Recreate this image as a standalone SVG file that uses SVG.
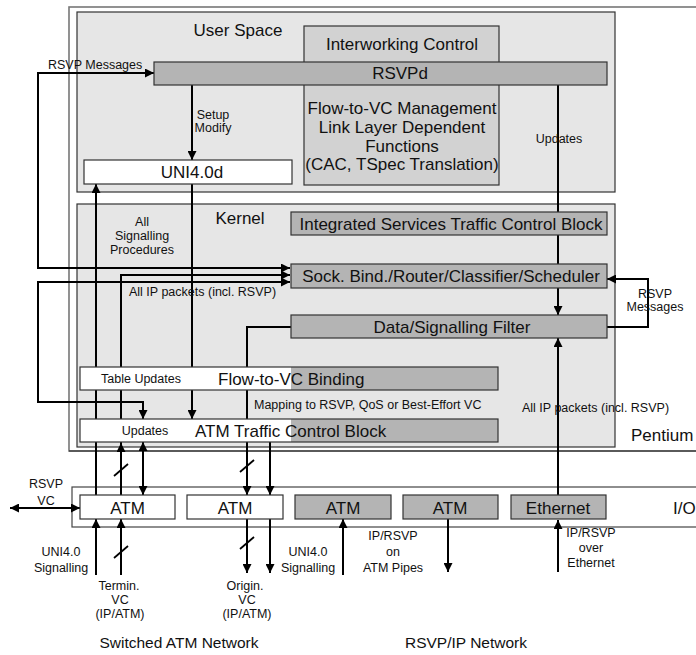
<svg xmlns="http://www.w3.org/2000/svg" width="696" height="655" viewBox="0 0 696 655">
<defs>
<marker id="ah" viewBox="0 0 10 10" refX="10" refY="5" markerWidth="9" markerHeight="9" markerUnits="userSpaceOnUse" orient="auto-start-reverse">
<path d="M0,0 L10,5 L0,10 z" fill="#000"/>
</marker>
<style>
text{font-family:"Liberation Sans",Arial,sans-serif;fill:#111}
.big{font-size:17px}
.sm{font-size:12.5px}
.bot{font-size:15.5px}
.mid{text-anchor:middle}
.cont{fill:#e6e6e6;stroke:#333;stroke-width:1.2}
.gray{fill:#b4b4b4;stroke:#333;stroke-width:1.2}
.white{fill:#fff;stroke:#333;stroke-width:1.2}
.c{fill:none;stroke:#000;stroke-width:2}
.a{fill:none;stroke:#000;stroke-width:2;marker-end:url(#ah)}
.aa{fill:none;stroke:#000;stroke-width:2;marker-start:url(#ah);marker-end:url(#ah)}
.sl{stroke:#000;stroke-width:1.8}
</style>
</defs>
<rect width="696" height="655" fill="#fff"/>

<g id="pentium">
<rect x="69" y="7" width="700" height="444" fill="#fff" stroke="#777" stroke-width="1.6"/>
<line x1="69" y1="451" x2="696" y2="451" stroke="#222" stroke-width="1.2"/>
<text class="big" x="631" y="441">Pentium</text>
</g>
<g id="io">
<rect x="72" y="487" width="700" height="40" fill="#fff" stroke="#444" stroke-width="1.2"/>
<text class="big" x="673" y="514">I/O</text>
</g>
<g id="userspace">
<rect class="cont" x="77" y="12" width="538" height="180"/>
<text class="big mid" x="238" y="36">User Space</text>
</g>
<g id="kernel">
<rect class="cont" x="77" y="204" width="538" height="243"/>
<text class="big mid" x="240" y="224">Kernel</text>
</g>

<g id="connectors">
<path class="aa" d="M290,268 H38 V73 H154"/>
<path class="a" d="M192,85 V160"/>
<path class="a" d="M192,184 V419"/>
<path class="c" d="M558,85 V264"/>
<path class="a" d="M558,288 V315"/>
<path class="a" d="M96,495 V184"/>
<path class="a" d="M121,495 V443"/>
<path class="a" d="M121,443 V275 H290"/>
<path class="aa" d="M143,442 V495"/>
<path class="aa" d="M290,282 H38 V402 H143 V419"/>
<path class="a" d="M291,327 H247 V495"/>
<path class="a" d="M270,442 V495"/>
<path class="a" d="M607,327 H648 V279 H607"/>
<path class="a" d="M558,495 V338"/>
<path class="aa" d="M10,508 H80"/>
<path class="a" d="M96,575 V519"/>
<path class="a" d="M121,575 V519"/>
<path class="a" d="M247,519 V573"/>
<path class="a" d="M270,519 V573"/>
<path class="a" d="M343,575 V519"/>
<path class="a" d="M448,519 V572"/>
<path class="a" d="M558,572 V520"/>
<line class="sl" x1="114" y1="476" x2="128" y2="464"/>
<line class="sl" x1="240" y1="472" x2="254" y2="460"/>
<line class="sl" x1="114" y1="558" x2="128" y2="546"/>
<line class="sl" x1="240" y1="549" x2="254" y2="537"/>
</g>

<g id="interworking">
<rect x="304" y="26" width="195" height="159" fill="#d2d2d2" stroke="#333" stroke-width="1.2"/>
<text class="big mid" x="402" y="50">Interworking Control</text>
<text class="big mid" x="402" y="114">Flow-to-VC Management</text>
<text class="big mid" x="402" y="133">Link Layer Dependent</text>
<text class="big mid" x="402" y="152">Functions</text>
<text class="big mid" x="402" y="170">(CAC, TSpec Translation)</text>
</g>
<g id="rsvpd">
<rect class="gray" x="154" y="62" width="453" height="23"/>
<text class="big mid" x="400" y="79">RSVPd</text>
</g>
<g id="uni40d">
<rect class="white" x="84" y="160" width="208" height="24"/>
<text class="big mid" x="192" y="178">UNI4.0d</text>
</g>
<g id="intserv">
<rect class="gray" x="291" y="212" width="316" height="23"/>
<text class="big mid" x="451" y="230">Integrated Services Traffic Control Block</text>
</g>
<g id="sock">
<rect class="gray" x="291" y="264" width="316" height="24"/>
<text class="big mid" x="451" y="282">Sock. Bind./Router/Classifier/Scheduler</text>
</g>
<g id="filter">
<rect class="gray" x="291" y="315" width="316" height="23"/>
<text class="big mid" x="452" y="333">Data/Signalling Filter</text>
</g>
<g id="flowvc">
<rect x="80" y="367" width="418" height="23" fill="#b4b4b4"/>
<rect x="80" y="367" width="211" height="23" fill="#fff"/>
<rect x="80" y="367" width="418" height="23" fill="none" stroke="#333" stroke-width="1.2"/>
<text class="sm mid" x="141" y="383">Table Updates</text>
<text class="big" x="218" y="385">Flow-to-VC Binding</text>
</g>
<g id="atmtc">
<rect x="80" y="419" width="418" height="23" fill="#b4b4b4"/>
<rect x="80" y="419" width="211" height="23" fill="#fff"/>
<rect x="80" y="419" width="418" height="23" fill="none" stroke="#333" stroke-width="1.2"/>
<text class="sm mid" x="145" y="435">Updates</text>
<text class="big" x="195" y="437">ATM Traffic Control Block</text>
</g>
<g id="atm1">
<rect class="white" x="80" y="495" width="95" height="24"/>
<text class="big mid" x="127.5" y="514">ATM</text>
</g>
<g id="atm2">
<rect class="white" x="187" y="495" width="96" height="24"/>
<text class="big mid" x="235" y="514">ATM</text>
</g>
<g id="atm3">
<rect class="gray" x="295" y="495" width="96" height="24"/>
<text class="big mid" x="343" y="514">ATM</text>
</g>
<g id="atm4">
<rect class="gray" x="403" y="495" width="95" height="24"/>
<text class="big mid" x="450" y="514">ATM</text>
</g>
<g id="ethernet">
<rect class="gray" x="511" y="495" width="95" height="24"/>
<text class="big mid" x="558" y="514">Ethernet</text>
</g>

<g id="labels">
<text class="sm" x="48" y="69">RSVP Messages</text>
<text class="sm mid" x="213" y="119">Setup</text>
<text class="sm mid" x="213" y="132">Modify</text>
<text class="sm mid" x="559" y="143">Updates</text>
<text class="sm mid" x="142" y="226">All</text>
<text class="sm mid" x="142" y="240">Signalling</text>
<text class="sm mid" x="142" y="254">Procedures</text>
<text class="sm" x="129" y="296">All IP packets (incl. RSVP)</text>
<text class="sm mid" x="655" y="298">RSVP</text>
<text class="sm mid" x="655" y="311">Messages</text>
<text class="sm" x="254" y="409">Mapping to RSVP, QoS or Best-Effort VC</text>
<text class="sm" x="522" y="412">All IP packets (incl. RSVP)</text>
<text class="sm mid" x="46" y="488">RSVP</text>
<text class="sm mid" x="46" y="505">VC</text>
<text class="sm mid" x="61" y="556">UNI4.0</text>
<text class="sm mid" x="61" y="572">Signalling</text>
<text class="sm mid" x="119" y="590">Termin.</text>
<text class="sm mid" x="120" y="604">VC</text>
<text class="sm mid" x="120" y="618">(IP/ATM)</text>
<text class="sm mid" x="245" y="590">Origin.</text>
<text class="sm mid" x="247" y="604">VC</text>
<text class="sm mid" x="247" y="618">(IP/ATM)</text>
<text class="sm mid" x="308" y="556">UNI4.0</text>
<text class="sm mid" x="308" y="572">Signalling</text>
<text class="sm mid" x="393" y="540">IP/RSVP</text>
<text class="sm mid" x="393" y="556">on</text>
<text class="sm mid" x="393" y="572">ATM Pipes</text>
<text class="sm mid" x="591" y="537">IP/RSVP</text>
<text class="sm mid" x="591" y="552">over</text>
<text class="sm mid" x="591" y="567">Ethernet</text>
<text class="bot mid" x="179" y="648">Switched ATM Network</text>
<text class="bot mid" x="466" y="648">RSVP/IP Network</text>
</g>
</svg>
